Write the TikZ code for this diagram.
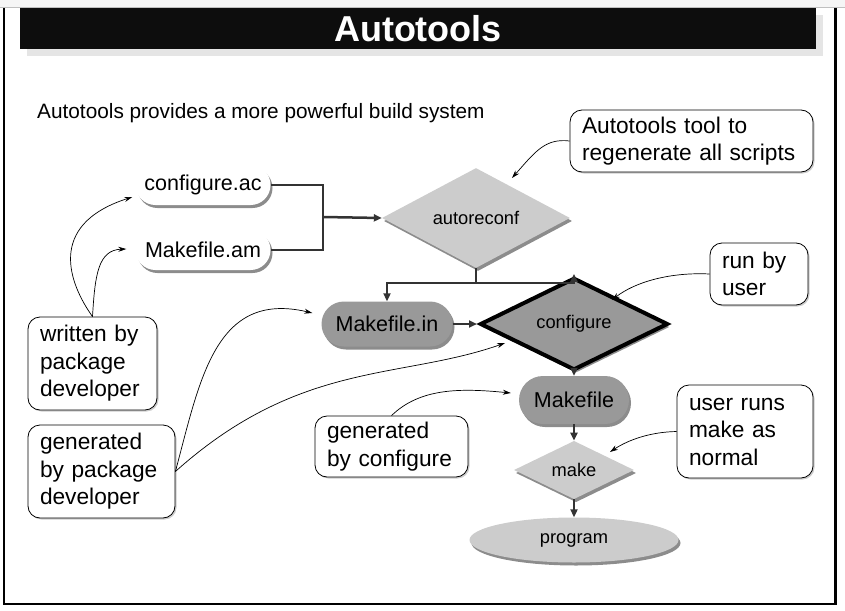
\documentclass[tikz,border=0pt]{standalone}
\usepackage{fontspec}
\setmainfont{Liberation Sans}
\usetikzlibrary{shapes.geometric, shapes.misc, shadows, arrows.meta}

\begin{document}
\begin{tikzpicture}[x=1pt, y=-1pt,
    flow/.style={line width=2.5pt, draw=black!80, -{Triangle[length=8pt,width=7pt]}},
    bar/.style={line width=2.5pt, draw=black!80},
    note/.style={line width=0.7pt, -{Stealth[length=8pt,width=5pt]}},
    pill/.style={rounded rectangle, inner sep=0pt, font=\fontsize{21.5}{24}\selectfont,
        drop shadow={shadow xshift=2pt, shadow yshift=-3pt, fill=black!45, opacity=1}},
    dia/.style={diamond, inner sep=0pt, fill=black!20, font=\fontsize{18.3}{20}\selectfont,
        drop shadow={shadow xshift=2pt, shadow yshift=-3pt, fill=black!45, opacity=1}},
    callout/.style={draw, line width=0.8pt, rounded corners=12pt, fill=white, align=left,
        inner xsep=12pt, inner ysep=0pt, font=\fontsize{22.7}{27.5}\selectfont,
        drop shadow={shadow xshift=1.5pt, shadow yshift=-1.5pt, fill=black!20, opacity=1}}]

    \useasboundingbox (0,0) rectangle (845,610);

    % page frame
    \fill[black!4] (0,0) rectangle (845,7.5);
    \draw[black!25] (0,7.5) -- (845,7.5);
    \draw[line width=2.5pt] (4,8) -- (4,604) -- (835.5,604) -- (835.5,8);

    % title bar
    \node[fill=black!95, text=white, minimum width=796pt, minimum height=41pt, inner sep=0pt,
        font=\bfseries\fontsize{36}{36}\selectfont,
        drop shadow={shadow xshift=7pt, shadow yshift=-7pt, fill=black!10, opacity=1}]
        (title) at (418,28.5) {Autotools};

    \node[anchor=west, inner sep=0pt, font=\fontsize{20.8}{24}\selectfont] (intro) at (37,113)
        {Autotools provides a more powerful build system};

    % sources
    \node[pill, fill=white, minimum width=135pt, minimum height=40pt] (cac) at (203,185) {configure.ac};
    \node[pill, fill=white, minimum width=135pt, minimum height=40pt] (mam) at (203,250) {Makefile.am};

    % autoreconf
    \node[dia, minimum width=188pt, minimum height=98pt] (arc) at (476,218) {autoreconf};

    % generated files and steps
    \node[pill, fill=black!40, minimum width=131pt, minimum height=45pt] (min) at (387,324) {Makefile.in};
    \node[dia, fill=black!40, draw=black, line width=4pt, minimum width=188pt, minimum height=48pt] (cfg) at (574,324) {configure};
    \node[pill, fill=black!40, minimum width=110pt, minimum height=48pt] (mk) at (574,400) {Makefile};
    \node[dia, minimum width=120pt, minimum height=46pt] (make) at (574,470) {make};
    \node[ellipse, fill=black!20, inner sep=0pt, minimum width=209pt, minimum height=45pt,
        font=\fontsize{18.3}{20}\selectfont,
        drop shadow={shadow xshift=2pt, shadow yshift=-3pt, fill=black!45, opacity=1}] (prog) at (574,540) {program};

    % flow
    \coordinate (jn) at (323,217);
    \coordinate (sp) at (476,283);
    \draw[bar] (cac.east) -| (jn) |- (mam.east);
    \draw[flow] (jn) -- (arc.west);
    \draw[bar] (arc.south) -- (sp);
    \draw[flow] (sp) -| (min.north);
    \draw[flow] (sp) -| ([yshift=2pt]cfg.north);
    \draw[flow] (min.east) -- ([xshift=-1pt]cfg.west);
    \draw[flow] (cfg.south) -- (mk.north);
    \draw[flow] (mk.south) -- (make.north);
    \draw[flow] (make.south) -- (prog.north);

    % callouts
    \node[callout, text width=219pt, minimum height=62pt] (tool) at (691.5,141)
        {Autotools tool to\\regenerate all scripts};
    \node[callout, text width=74pt, minimum height=62pt] (run) at (759,274)
        {run by\\user};
    \node[callout, text width=112pt, minimum height=93pt] (usr) at (745,431.5)
        {user runs\\make as\\normal};
    \node[callout, text width=105pt, minimum height=93pt] (wrt) at (92.5,363.5)
        {written by\\package\\developer};
    \node[callout, text width=123pt, minimum height=93pt] (gpk) at (101.5,471.5)
        {generated\\by package\\developer};
    \node[callout, text width=129pt, minimum height=61pt] (gcf) at (391.5,446.5)
        {generated\\by configure};

    % callout pointers
    \coordinate (toarc) at (512,178);
    \coordinate (tocfg) at (612,300);
    \coordinate (tomake) at (610,452);
    \coordinate (tocfg2) at (505,343);
    \draw[note] (tool.west) .. controls (545,138) and (535,152) .. (toarc);
    \draw[note] (run.west) .. controls (670,272) and (635,282) .. (tocfg);
    \draw[note] (usr.west) .. controls (650,432) and (628,440) .. (tomake);
    \draw[note] (wrt.north) .. controls (70,285) and (45,225) .. ([xshift=-3pt,yshift=-12pt]cac.west);
    \draw[note] (wrt.north) .. controls (95,275) and (98,250) .. ([xshift=-9pt,yshift=1pt]mam.west);
    \draw[note] (gpk.east) .. controls (200,380) and (215,290) .. ([xshift=-9pt,yshift=11pt]min.west);
    \draw[note] (gpk.east) .. controls (300,360) and (400,380) .. (tocfg2);
    \draw[note] (gcf.north) .. controls (420,388) and (460,388) .. ([xshift=-8pt,yshift=7pt]mk.west);
\end{tikzpicture}
\end{document}
